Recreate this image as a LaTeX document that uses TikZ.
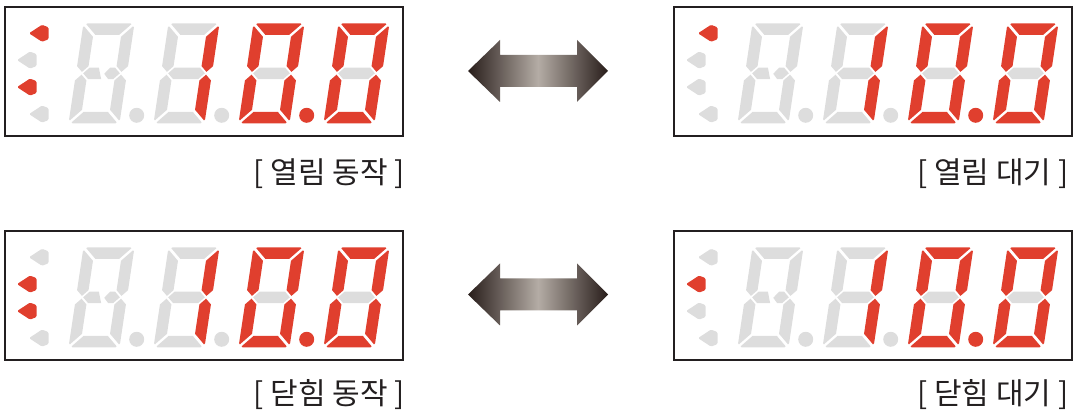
\documentclass[tikz,border=0pt]{standalone}
\usepackage{fontspec}
\newfontfamily\krfont{Noto Sans CJK KR}
\definecolor{segred}{RGB}{224,63,46}
\definecolor{seggray}{RGB}{221,221,221}
\definecolor{framecol}{RGB}{35,31,32}
\definecolor{arrdark}{RGB}{40,29,26}
\definecolor{arrlight}{RGB}{180,172,165}
% segments of one digit (unslanted, origin bottom-left, W=51, H=100, t=11.5)
\newcommand{\segA}[1]{\fill[#1] (4,100) -- (47,100) -- (48,99) -- (37.5,88.5) -- (13.5,88.5) -- (3,99) -- cycle;}
\newcommand{\segB}[1]{\fill[#1] (51,96) -- (50,97) -- (39.5,86.5) -- (39.5,57.15) -- (45.25,51.4) -- (51,57.15) -- cycle;}
\newcommand{\segC}[1]{\fill[#1] (51,4) -- (50,3) -- (39.5,13.5) -- (39.5,42.85) -- (45.25,48.6) -- (51,42.85) -- cycle;}
\newcommand{\segD}[1]{\fill[#1] (4,0) -- (47,0) -- (48,1) -- (37.5,11.5) -- (13.5,11.5) -- (3,1) -- cycle;}
\newcommand{\segE}[1]{\fill[#1] (0,4) -- (1,3) -- (11.5,13.5) -- (11.5,42.85) -- (5.75,48.6) -- (0,42.85) -- cycle;}
\newcommand{\segF}[1]{\fill[#1] (0,96) -- (1,97) -- (11.5,86.5) -- (11.5,57.15) -- (5.75,51.4) -- (0,57.15) -- cycle;}
\newcommand{\segG}[1]{\fill[#1] (7.15,50) -- (12.9,55.75) -- (38.1,55.75) -- (43.85,50) -- (38.1,44.25) -- (12.9,44.25) -- cycle;}
\newcommand{\splitmid}[1]{%
\fill[#1] (7.15,50) -- (12.9,55.75) -- (22,55.75) -- (26,44.25) -- (12.9,44.25) -- cycle;
\fill[#1] (28.3,49.5) -- (33.5,55.75) -- (38.1,55.75) -- (43.85,50) -- (38.1,44.25) -- (33,44.25) -- cycle;}
% a b c d e f
\newcommand{\sixseg}[6]{\segA{#1}\segB{#2}\segC{#3}\segD{#4}\segE{#5}\segF{#6}}
\newcommand{\indic}[3]{\fill[#1, rounded corners=1.2pt] ({#2},{417-(#3)}) -- ++(13,8.5) -- ++(6.5,-2.5) -- ++(0,-12) -- ++(-6.5,-2.5) -- cycle;}
% #1 x, #2 y (image top-left), #3..#6 indicator colours
\newcommand{\drawdisplay}[6]{%
\draw[framecol, line width=2.2pt] (#1,417-#2) rectangle ++(397.7,-129);
\indic{#3}{#1+24}{#2+26.5}
\indic{#4}{#1+12}{#2+53.3}
\indic{#5}{#1+12}{#2+80.3}
\indic{#6}{#1+24}{#2+107.3}
\begin{scope}[shift={(#1+63.5,417-#2-116.5)}, xslant=0.15]
\sixseg{seggray}{seggray}{seggray}{seggray}{seggray}{seggray}
\splitmid{seggray}
\end{scope}
\fill[seggray] (#1+63.5+68.2,417-#2-116.5+8) circle (7.5);
\begin{scope}[shift={(#1+148.5,417-#2-116.5)}, xslant=0.15]
\sixseg{seggray}{segred}{segred}{seggray}{seggray}{seggray}
\segG{seggray}
\end{scope}
\fill[seggray] (#1+148.5+68.2,417-#2-116.5+8) circle (7.5);
\begin{scope}[shift={(#1+233.5,417-#2-116.5)}, xslant=0.15]
\sixseg{segred}{segred}{segred}{segred}{segred}{segred}
\segG{seggray}
\end{scope}
\fill[segred] (#1+233.5+68.2,417-#2-116.5+8) circle (7.5);
\begin{scope}[shift={(#1+318.5,417-#2-116.5)}, xslant=0.15]
\sixseg{segred}{segred}{segred}{segred}{segred}{segred}
\segG{seggray}
\end{scope}}
\newcommand{\dblarrow}[1]{%
\shade[left color=arrdark, right color=arrdark, middle color=arrlight]
 (468,417-#1) -- (500,417-#1+31) -- (500,417-#1+16) -- (577,417-#1+16) -- (577,417-#1+31) -- (608,417-#1) -- (577,417-#1-31) -- (577,417-#1-16) -- (500,417-#1-16) -- (500,417-#1-31) -- cycle;}
\begin{document}
\begin{tikzpicture}[x=1pt,y=1pt,
  lbl/.style={font=\krfont\fontsize{30}{34}\selectfont, inner sep=0pt, text=framecol}]
\useasboundingbox (0,0) rectangle (1074,417);
\drawdisplay{5}{6.8}{segred}{seggray}{segred}{seggray}
\drawdisplay{674}{6.8}{segred}{seggray}{seggray}{seggray}
\drawdisplay{5}{230.8}{seggray}{segred}{segred}{seggray}
\drawdisplay{674}{230.8}{seggray}{segred}{seggray}{seggray}
\dblarrow{71}
\dblarrow{294.5}
\node[lbl, anchor=base east] (l1) at (405,417-184) {[ 열림 동작 ]};
\node[lbl, anchor=base east] (l2) at (1068.5,417-184) {[ 열림 대기 ]};
\node[lbl, anchor=base east] (l3) at (405,417-404.5) {[ 닫힘 동작 ]};
\node[lbl, anchor=base east] (l4) at (1068.5,417-404.5) {[ 닫힘 대기 ]};
\end{tikzpicture}
\end{document}
